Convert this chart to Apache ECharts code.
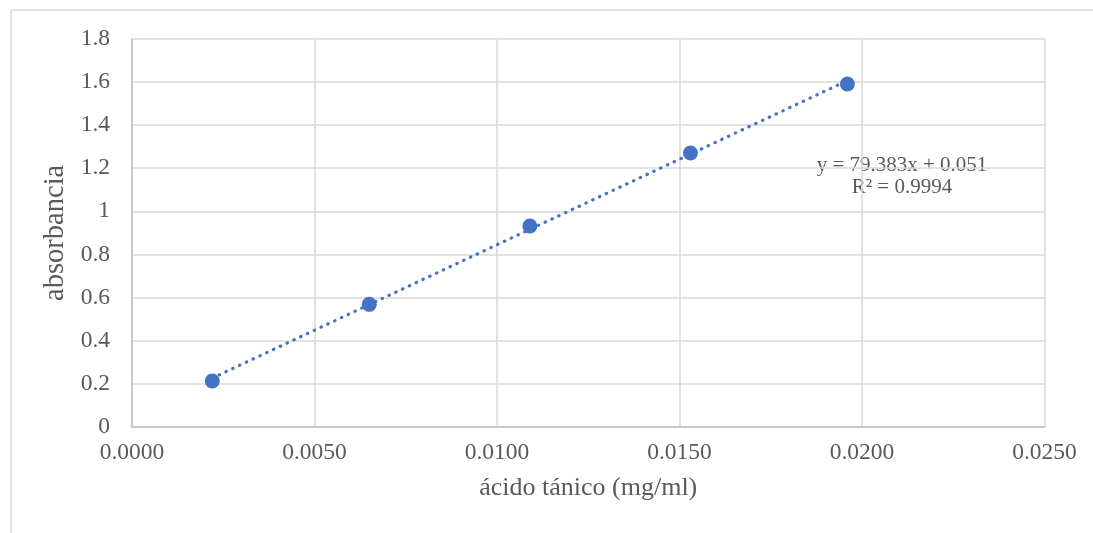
<!DOCTYPE html>
<html>
<head>
<meta charset="utf-8">
<script src="https://cdn.jsdelivr.net/npm/echarts@6/dist/echarts.min.js"></script>
<style>html,body{margin:0;padding:0;background:#fff;}#c{width:1093px;height:533px;}</style>
</head>
<body>
<div id="c"></div>
<script>
const concentrations = [0.0022, 0.0065, 0.0109, 0.0153, 0.0196];
const absorbances = [0.212, 0.568, 0.932, 1.271, 1.591];
const trendSlope = 79.383;
const trendIntercept = 0.051;
const trendLabel = ['y = 79.383x + 0.051', 'R² = 0.9994'];
const xTitle = 'ácido tánico (mg/ml)';
const yTitle = 'absorbancia';

const points = concentrations.map((x, i) => [x, absorbances[i]]);
const xMin = Math.min(...concentrations), xMax = Math.max(...concentrations);
const trend = [[xMin, trendSlope * xMin + trendIntercept], [xMax, trendSlope * xMax + trendIntercept]];

const font = '"Liberation Serif", "Times New Roman", serif';
const txt = '#595959';
const chart = echarts.init(document.getElementById('c'));
chart.setOption({
  animation: false,
  backgroundColor: '#fff',
  grid: { left: 132, top: 39, right: 48.5, bottom: 106.3, containLabel: false },
  xAxis: {
    type: 'value', min: 0, max: 0.025, interval: 0.005,
    name: xTitle, nameLocation: 'middle', nameGap: 48,
    nameTextStyle: { fontFamily: font, fontSize: 26, color: txt },
    axisLine: { show: true, lineStyle: { color: '#bfbfbf', width: 1.5 } },
    axisTick: { show: false },
    axisLabel: { fontFamily: font, fontSize: 23.5, color: txt, margin: 14, formatter: v => v.toFixed(4) },
    splitLine: { show: true, lineStyle: { color: '#d9d9d9', width: 1.5 } }
  },
  yAxis: {
    type: 'value', min: 0, max: 1.8, interval: 0.2,
    name: yTitle, nameLocation: 'middle', nameGap: 61, nameRotate: 90,
    nameTextStyle: { fontFamily: font, fontSize: 28.5, color: txt },
    axisLine: { show: true, lineStyle: { color: '#bfbfbf', width: 1.5 } },
    axisTick: { show: false },
    axisLabel: { fontFamily: font, fontSize: 23.5, color: txt, margin: 22, formatter: v => String(Math.round(v * 10) / 10) },
    splitLine: { show: true, lineStyle: { color: '#d9d9d9', width: 1.5 } }
  },
  series: [
    {
      type: 'line', data: trend, symbol: 'none', z: 2,
      lineStyle: { color: '#4472C4', width: 3.2, type: [0.5, 7], cap: 'round' }
    },
    {
      type: 'scatter', data: points, symbol: 'circle', symbolSize: 15, z: 3,
      itemStyle: { color: '#4472C4', opacity: 1 }
    }
  ],
  graphic: [
    { type: 'rect', shape: { x: 11, y: 10, width: 1200, height: 700 }, style: { fill: 'none', stroke: '#d9d9d9', lineWidth: 1.5 }, z: -1, silent: true },
    { type: 'text', x: 902, y: 165, style: { text: trendLabel[0], font: '21px ' + font, fill: txt, align: 'center', verticalAlign: 'middle' } },
    { type: 'text', x: 902, y: 187, style: { text: trendLabel[1], font: '21px ' + font, fill: txt, align: 'center', verticalAlign: 'middle' } }
  ]
});
</script>
</body>
</html>
